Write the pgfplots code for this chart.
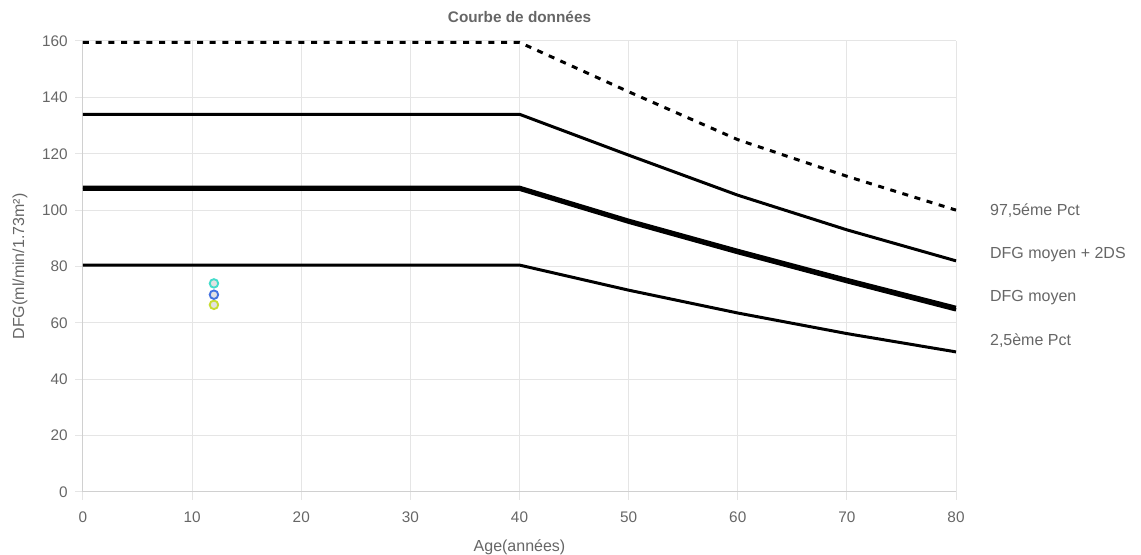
\documentclass[border=0pt]{standalone}
\usepackage{pgfplots}
\pgfplotsset{compat=1.18}
\usepackage{fontspec}
\setmainfont{Liberation Sans}
\definecolor{txt}{HTML}{666666}
\definecolor{gridc}{HTML}{E5E5E5}
\definecolor{axc}{HTML}{D0D0D0}
\definecolor{pc1}{HTML}{45DCCB}
\definecolor{pc2}{HTML}{4472E0}
\definecolor{pc3}{HTML}{C8DC32}
\definecolor{pfill}{HTML}{E2E2E2}
\begin{document}
\begin{tikzpicture}[x=0.75pt,y=0.75pt]
\path[use as bounding box] (-83,-63) rectangle (1058,492);
\begin{axis}[
  at={(0,0)}, anchor=south west,
  scale only axis,
  width=654.75pt, height=338.25pt,
  xmin=0, xmax=80, ymin=0, ymax=160,
  xtick={0,10,...,80}, ytick={0,20,...,160},
  axis lines=left,
  axis line style={-, draw=axc, line width=0.75pt},
  grid=major,
  major grid style={draw=gridc, line width=0.75pt},
  tick style={draw=gridc, line width=0.75pt},
  tick align=outside,
  major tick length=6pt,
  ticklabel style={font=\fontsize{11.5}{13}\selectfont, text=txt},
  /pgf/number format/assume math mode=true,
  xticklabel style={yshift=-5pt},
  yticklabel style={xshift=-2pt},
  xlabel={Age(années)},
  ylabel={DFG(ml/min/1.73m²)},
  label style={font=\fontsize{12}{14}\selectfont, text=txt},
  xlabel style={yshift=-6pt},
  ylabel style={yshift=4pt},
  title={\textbf{Courbe de données}},
  title style={font=\fontsize{11.5}{13}\selectfont, text=txt, yshift=4pt},
  clip=false,
]
% 97.5th percentile (dashed)
\addplot[black, line width=2.25pt, dash pattern=on 4.5pt off 5pt] coordinates {
 (0,159.5) (40,159.5) (50,142) (60,125) (70,112) (80,100)};
% mean + 2DS
\addplot[black, line width=2.25pt] coordinates {
 (0,134) (40,134) (50,119.5) (60,105.3) (70,93) (80,82)};
% mean (two close lines)
\addplot[black, line width=2.5pt] coordinates {
 (0,108.1) (40,108.1) (50,96.4) (60,85.7) (70,75.4) (80,65.5)};
\addplot[black, line width=2.5pt] coordinates {
 (0,107.4) (40,107.4) (50,95.7) (60,84.9) (70,74.6) (80,64.6)};
% 2.5th percentile
\addplot[black, line width=2.25pt] coordinates {
 (0,80.5) (40,80.5) (50,71.6) (60,63.5) (70,56.2) (80,49.7)};
% patient points
\addplot[only marks, mark=*, mark size=3.2pt, mark options={draw=pc1, fill=pfill, line width=1.4pt}] coordinates {(12,74)};
\addplot[only marks, mark=*, mark size=3.2pt, mark options={draw=pc3, fill=pfill, line width=1.4pt}] coordinates {(12,66.4)};
\addplot[only marks, mark=*, mark size=3.2pt, mark options={draw=pc2, fill=pfill, line width=1.4pt}] coordinates {(12,70)};
% right labels
\node[anchor=west, inner sep=0pt, text=txt, font=\fontsize{12}{14}\selectfont] at (axis cs:83.1,99.7) {97,5éme Pct};
\node[anchor=west, inner sep=0pt, text=txt, font=\fontsize{12}{14}\selectfont] at (axis cs:83.1,84.4) {DFG moyen + 2DS};
\node[anchor=west, inner sep=0pt, text=txt, font=\fontsize{12}{14}\selectfont] at (axis cs:83.1,68.8) {DFG moyen};
\node[anchor=west, inner sep=0pt, text=txt, font=\fontsize{12}{14}\selectfont] at (axis cs:83.1,53.6) {2,5ème Pct};
\end{axis}
\end{tikzpicture}
\end{document}
